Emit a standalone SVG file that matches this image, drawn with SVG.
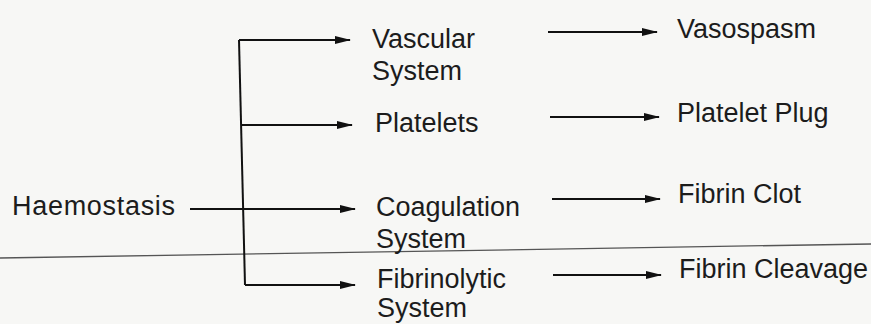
<svg xmlns="http://www.w3.org/2000/svg" width="871" height="324" viewBox="0 0 871 324">
<style>
text{font-family:"Liberation Sans",Arial,sans-serif;font-size:27px;fill:#1c1c1c}
.c{stroke:#111;stroke-width:2;fill:none}
.rule{stroke:#555;stroke-width:1.3;fill:none}
</style>
<defs>
<marker id="ah" markerWidth="16" markerHeight="10" refX="15" refY="5" orient="auto" markerUnits="userSpaceOnUse">
<path d="M0,1 L16,5 L0,9 Z" fill="#111"/>
</marker>
</defs>
<rect width="871" height="324" fill="#f7f7f5"/>
<line class="rule" x1="0" y1="258" x2="871" y2="244"/>
<g id="connectors">
<path class="c" d="M239,40 L245,285"/>
<line class="c" x1="239" y1="40" x2="350" y2="40" marker-end="url(#ah)"/>
<line class="c" x1="241" y1="125" x2="352" y2="125" marker-end="url(#ah)"/>
<line class="c" x1="190" y1="209" x2="355" y2="209" marker-end="url(#ah)"/>
<line class="c" x1="245" y1="285" x2="355" y2="285" marker-end="url(#ah)"/>
<line class="c" x1="548" y1="32" x2="657" y2="32" marker-end="url(#ah)"/>
<line class="c" x1="550" y1="117" x2="659" y2="117" marker-end="url(#ah)"/>
<line class="c" x1="552" y1="199" x2="660" y2="199" marker-end="url(#ah)"/>
<line class="c" x1="553" y1="275" x2="661" y2="275" marker-end="url(#ah)"/>
</g>
<g id="haemostasis"><text x="12" y="215" letter-spacing="0.7">Haemostasis</text></g>
<g id="vascular"><text x="372" y="48">Vascular</text><text x="372" y="80">System</text></g>
<g id="platelets"><text x="375" y="132">Platelets</text></g>
<g id="coagulation"><text x="376" y="216">Coagulation</text><text x="376" y="248">System</text></g>
<g id="fibrinolytic"><text x="377" y="288">Fibrinolytic</text><text x="377" y="317">System</text></g>
<g id="vasospasm"><text x="677" y="38">Vasospasm</text></g>
<g id="plateletplug"><text x="677" y="122">Platelet Plug</text></g>
<g id="fibrinclot"><text x="678" y="203">Fibrin Clot</text></g>
<g id="fibrincleavage"><text x="679" y="278">Fibrin Cleavage</text></g>
</svg>
